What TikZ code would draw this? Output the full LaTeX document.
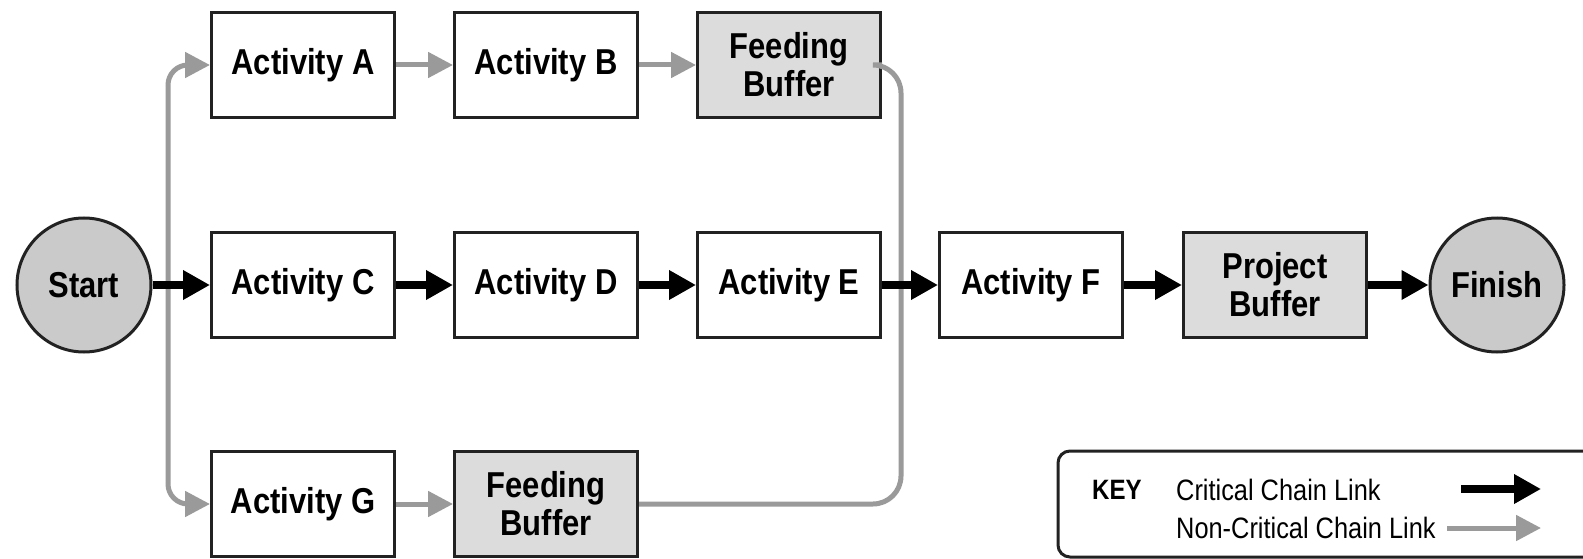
\documentclass[tikz,border=0pt]{standalone}
\usepackage{fontspec}
\setmainfont{Liberation Sans}[FakeStretch=0.86]
\usetikzlibrary{arrows.meta}
\definecolor{linkgray}{HTML}{9A9A9A}
\definecolor{bufgray}{HTML}{DCDCDC}
\definecolor{edge}{HTML}{222222}
\newcommand{\crit}[2]{\draw[critical] (#1) -- (#2)}
\newcommand{\feed}[2]{\draw[noncritical] (#1) -- (#2)}

\begin{document}
\begin{tikzpicture}[x=1pt, y=-1pt,
	act/.style={draw=edge, line width=3pt, minimum width=183pt, minimum height=105pt,
		inner sep=0pt, align=center, font=\fontsize{36}{38}\selectfont\bfseries},
	buf/.style={act, fill=bufgray},
	ends/.style={circle, draw=edge, line width=3pt, fill=bufgray!92!black, minimum size=134pt,
		inner sep=0pt, font=\fontsize{36}{38}\selectfont\bfseries},
	keytext/.style={anchor=west, inner sep=0pt, font=\fontsize{29.5}{32}\selectfont},
	critical/.style={line width=8pt, -{Triangle[length=27pt,width=28pt]}},
	feedline/.style={linkgray, line width=5pt},
	noncritical/.style={feedline, -{Triangle[length=25pt,width=25pt]}}]
\useasboundingbox (0,0) rectangle (1583,559);
%The nodes
	\node[ends] (start) at (84,285) {Start};
	\node[act] (actA) at (303,65) {Activity A};
	\node[act] (actB) at (546,65) {Activity B};
	\node[buf] (fbufA) at (789,65) {Feeding\\Buffer};
	\node[act] (actC) at (303,285) {Activity C};
	\node[act] (actD) at (546,285) {Activity D};
	\node[act] (actE) at (789,285) {Activity E};
	\node[act] (actF) at (1031,285) {Activity F};
	\node[buf] (pbuf) at (1275,285) {Project\\Buffer};
	\node[ends] (finish) at (1497,285) {Finish};
	\node[act] (actG) at (303,504) {Activity G};
	\node[buf] (fbufB) at (546,504) {Feeding\\Buffer};
	\coordinate (split) at (168,285);
	\coordinate (merge) at (901,285);
%The feeding chains
	\draw[noncritical, rounded corners=20pt] (split) |- (actA);
	\draw[noncritical, rounded corners=20pt] (split) |- (actG);
	\feed{actA}{actB};
	\feed{actB}{fbufA};
	\feed{actG}{fbufB};
	\draw[feedline, rounded corners=28pt] (fbufA.east) -| (merge);
	\draw[feedline, rounded corners=28pt] (fbufB.east) -| (merge);
%The critical chain
	\crit{start}{actC};
	\crit{actC}{actD};
	\crit{actD}{actE};
	\crit{actE}{actF};
	\crit{actF}{pbuf};
	\crit{pbuf}{finish};
%The key
	\draw[edge, line width=3pt, rounded corners=12pt] (1058,451) rectangle (1620,557);
	\node[keytext, font=\fontsize{28}{30}\selectfont\bfseries] (keylbl) at (1092,490) {KEY};
	\node[keytext] (critlbl) at (1176,490) {Critical Chain Link};
	\node[keytext] (noncritlbl) at (1176,528) {Non-Critical Chain Link};
	\coordinate (kc1) at (1461,489);
	\coordinate (kc2) at (1541,489);
	\coordinate (kn1) at (1447,528);
	\coordinate (kn2) at (1541,528);
	\crit{kc1}{kc2};
	\feed{kn1}{kn2};
\end{tikzpicture}
\end{document}
